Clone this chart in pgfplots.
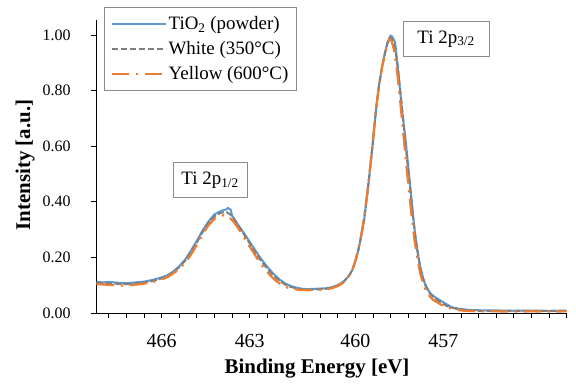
\documentclass[border=0pt]{standalone}
\usepackage{fontspec}
\setmainfont{Liberation Serif}
\usepackage{pgfplots}
\pgfplotsset{compat=1.18}
\definecolor{xblue}{HTML}{5B9BD5}
\definecolor{xgray}{HTML}{7F7F7F}
\definecolor{xorange}{HTML}{ED7D31}
\definecolor{boxgray}{HTML}{8C8C8C}

\pgfplotstableread{
E I
468.22 0.112
468.0 0.110
467.8 0.112
467.6 0.110
467.4 0.108
467.2 0.107
467.0 0.109
466.8 0.111
466.6 0.113
466.4 0.117
466.2 0.122
466.0 0.128
465.8 0.136
465.6 0.150
465.4 0.168
465.2 0.192
465.0 0.225
464.8 0.260
464.6 0.298
464.4 0.330
464.2 0.355
464.0 0.366
463.9 0.370
463.8 0.372
463.75 0.378
463.65 0.372
463.6 0.350
463.4 0.318
463.2 0.288
463.0 0.256
462.8 0.224
462.6 0.193
462.4 0.166
462.2 0.142
462.0 0.122
461.8 0.107
461.6 0.097
461.4 0.091
461.2 0.087
461.0 0.086
460.8 0.087
460.6 0.088
460.4 0.089
460.2 0.093
460.0 0.100
459.8 0.113
459.7 0.124
459.6 0.137
459.5 0.155
459.4 0.185
459.3 0.225
459.2 0.275
459.1 0.335
459.0 0.420
458.9 0.514
458.8 0.615
458.7 0.728
458.6 0.815
458.5 0.880
458.4 0.932
458.3 0.975
458.2 0.998
458.15 0.995
458.05 0.975
458.0 0.93
457.9 0.825
457.8 0.72
457.7 0.634
457.6 0.53
457.5 0.425
457.4 0.315
457.3 0.232
457.2 0.170
457.1 0.128
457.0 0.098
456.85 0.071
456.7 0.058
456.5 0.045
456.3 0.032
456.1 0.020
455.8 0.014
455.5 0.011
455.0 0.009
454.5 0.009
454.0 0.008
453.5 0.009
453.0 0.008
452.5 0.008
452.2 0.009
}\tablepowder

\pgfplotstableread{
E I
468.22 0.108
467.9 0.107
467.5 0.105
467.1 0.104
466.7 0.108
466.4 0.113
466.1 0.121
465.8 0.133
465.5 0.155
465.2 0.188
465.0 0.218
464.8 0.254
464.6 0.292
464.4 0.325
464.2 0.348
464.0 0.360
463.8 0.364
463.6 0.350
463.4 0.316
463.2 0.284
463.0 0.250
462.8 0.217
462.6 0.186
462.4 0.159
462.2 0.136
462.0 0.117
461.8 0.103
461.6 0.094
461.4 0.088
461.2 0.085
461.0 0.084
460.7 0.085
460.4 0.087
460.2 0.091
460.0 0.099
459.8 0.112
459.6 0.137
459.5 0.156
459.4 0.186
459.3 0.227
459.2 0.278
459.1 0.340
459.0 0.424
458.9 0.518
458.8 0.620
458.7 0.728
458.6 0.814
458.5 0.880
458.4 0.931
458.3 0.972
458.22 0.992
458.15 0.985
458.05 0.955
457.95 0.88
457.85 0.78
457.75 0.67
457.65 0.565
457.55 0.46
457.45 0.36
457.35 0.27
457.25 0.20
457.15 0.145
457.05 0.108
456.9 0.075
456.7 0.053
456.5 0.038
456.3 0.026
456.0 0.016
455.7 0.011
455.2 0.008
454.6 0.007
454.0 0.008
453.4 0.007
452.8 0.008
452.2 0.008
}\tablewhite

\pgfplotstableread{
E I
468.22 0.104
467.9 0.102
467.6 0.100
467.3 0.099
467.0 0.101
466.7 0.104
466.4 0.109
466.1 0.117
465.8 0.129
465.5 0.150
465.2 0.181
465.0 0.210
464.8 0.246
464.6 0.284
464.4 0.316
464.2 0.339
464.0 0.350
463.85 0.352
463.7 0.345
463.5 0.322
463.3 0.290
463.1 0.256
462.9 0.222
462.7 0.189
462.5 0.160
462.3 0.135
462.1 0.115
461.9 0.101
461.7 0.091
461.5 0.086
461.3 0.083
461.0 0.082
460.7 0.083
460.4 0.085
460.2 0.089
460.0 0.097
459.8 0.110
459.6 0.135
459.5 0.156
459.4 0.188
459.3 0.230
459.2 0.282
459.1 0.345
459.0 0.428
458.9 0.522
458.8 0.624
458.7 0.730
458.6 0.814
458.5 0.878
458.4 0.930
458.3 0.968
458.24 0.985
458.17 0.98
458.08 0.945
457.98 0.87
457.88 0.77
457.78 0.66
457.68 0.55
457.58 0.445
457.48 0.345
457.38 0.258
457.28 0.19
457.18 0.138
457.08 0.100
456.95 0.070
456.75 0.047
456.5 0.031
456.3 0.021
456.0 0.012
455.7 0.008
455.2 0.006
454.6 0.006
454.0 0.005
453.4 0.006
452.8 0.005
452.2 0.006
}\tableyellow

\begin{document}
\begin{tikzpicture}
\path[use as bounding box] (0bp,0bp) rectangle (576bp,385bp);
\begin{axis}[
  at={(96.5bp,72bp)}, anchor=south west,
  scale only axis, width=470.2bp, height=293bp,
  x dir=reverse,
  xmin=452.2, xmax=468.22,
  ymin=0, ymax=1.054,
  axis lines*=left,
  axis line style={black, line width=0.9bp, -},
  tick align=outside,
  major tick length=5.5bp, minor tick length=5.5bp,
  tick style={black, line width=0.9bp},
  xtick={466,463,459.4,456.4},
  xticklabels={466,463,460,457},
  minor xtick={467.8,467.2,466.6,465.4,464.8,464.2,463.6,462.4,461.8,461.2,460.6,460.0,458.8,458.2,457.6,457.0,455.8,455.2,454.6,454.0,453.4,452.8,452.2},
  ytick={0,0.2,0.4,0.6,0.8,1.0},
  /pgf/number format/assume math mode=true,
  yticklabel style={/pgf/number format/fixed, /pgf/number format/fixed zerofill, /pgf/number format/precision=2, font=\fontsize{16}{19}\selectfont, xshift=-17bp},
  xticklabel style={font=\fontsize{20}{24}\selectfont, yshift=-12bp},
  xlabel={\textbf{Binding Energy [eV]}},
  ylabel={\textbf{Intensity [a.u.]}},
  xlabel style={font=\fontsize{21}{25}\selectfont, at={(axis description cs:0.469,-0.188)}, anchor=center},
  ylabel style={font=\fontsize{21}{25}\selectfont, at={(axis description cs:-0.152,0.505)}, anchor=center, rotate=0},
  legend style={at={(axis description cs:0.016,1.044)}, anchor=north west, draw=boxgray, line width=0.8bp,
    font=\fontsize{19}{21}\selectfont, row sep=6.5bp, inner xsep=6bp, inner ysep=7bp},
  legend cell align=left,
  legend image code/.code={\draw[#1] (0bp,0bp) -- (47bp,0bp); \path (0bp,0bp) -- (54bp,0bp);},
  clip=false,
]
\addplot[xblue, line width=2bp, line join=round] table[x=E,y=I] {\tablepowder};
\addlegendentry{TiO\textsubscript{2} (powder)}
\addplot[xgray, line width=2bp, dash pattern=on 6.6bp off 2.4bp] table[x=E,y=I] {\tablewhite};
\addlegendentry{White (350°C)}
\addplot[xorange, line width=2.2bp, dash pattern=on 17.6bp off 6.6bp on 2.2bp off 6.6bp] table[x=E,y=I] {\tableyellow};
\addlegendentry{Yellow (600°C)\hspace{40bp}}
\node[draw=boxgray, line width=0.8bp, fill=white, font=\fontsize{19}{21}\selectfont, minimum width=74bp, minimum height=35bp, inner sep=2bp] at (axis cs:464.35,0.478) {Ti 2p\textsubscript{1/2}};
\node[draw=boxgray, line width=0.8bp, fill=white, font=\fontsize{19}{21}\selectfont, minimum width=86bp, minimum height=35bp, inner sep=2bp] at (axis cs:456.31,0.986) {Ti 2p\textsubscript{3/2}};
\end{axis}
\end{tikzpicture}
\end{document}
